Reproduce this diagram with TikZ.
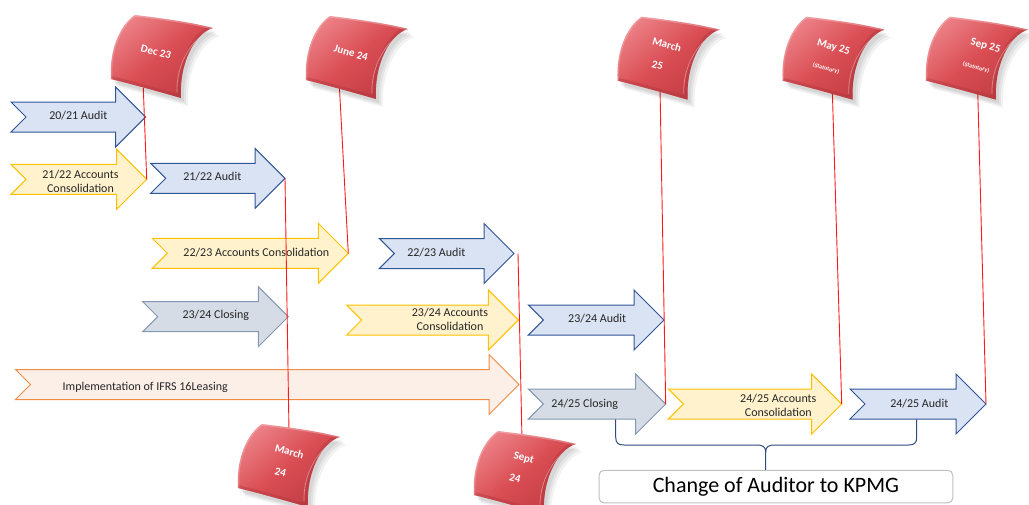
\documentclass[tikz,border=0pt]{standalone}
\usepackage{fontspec}
\setmainfont{Carlito}
\usetikzlibrary{calc}
\definecolor{bluefill}{HTML}{DAE3F3}
\definecolor{blueline}{HTML}{2F5597}
\definecolor{yelfill}{HTML}{FFF2CC}
\definecolor{yelline}{HTML}{FFC000}
\definecolor{grayfill}{HTML}{D6DCE5}
\definecolor{grayline}{HTML}{8497B0}
\definecolor{orfill}{HTML}{FCEFE7}
\definecolor{orline}{HTML}{F08C45}
\definecolor{flaglight}{HTML}{EB7E84}
\definecolor{flagmid}{HTML}{D94D53}
\definecolor{flagdark}{HTML}{C23D44}
\definecolor{bracecol}{HTML}{2F4B7C}
\definecolor{boxline}{HTML}{BFBFBF}
\definecolor{txt}{HTML}{262626}
\tikzset{
  arrowbox/.style={line width=1pt, line join=miter},
  bluearrow/.style={arrowbox, fill=bluefill, draw=blueline},
  yelarrow/.style={arrowbox, fill=yelfill, draw=yelline},
  grayarrow/.style={arrowbox, fill=grayfill, draw=grayline},
  orarrow/.style={arrowbox, fill=orfill, draw=orline},
  lbl/.style={font=\fontsize{12}{14}\selectfont, text=txt, align=center, inner sep=0pt},
  redline/.style={draw=red!90!white, line width=0.9pt},
  flagtext/.style={text=white, font=\bfseries\fontsize{11}{13}\selectfont, rotate=-15, inner sep=0pt},
  flagsmall/.style={text=white, font=\bfseries\fontsize{6}{7}\selectfont, rotate=-15, inner sep=0pt},
  brace/.style={draw=bracecol, line width=1pt},
  flagp/.style={insert path={(-25,-40) .. controls (0,-37) and (30,-33) .. (53,-27) .. controls (35,-22) and (19,8) .. (21,43) .. controls (0,37) and (-25,30) .. (-49,24) .. controls (-51,-5) and (-40,-30) .. (-25,-40) -- cycle}},
  flagshape/.pic={
    \fill[black, opacity=0.06, shift={(3,4)}, flagp];
    \fill[black, opacity=0.06, shift={(5,6)}, flagp];
    \fill[black, opacity=0.05, shift={(7,8)}, flagp];
    \shade[top color=flaglight, bottom color=flagdark, middle color=flagmid, shading angle=40, flagp];
    \begin{scope}
      \clip[flagp];
      \draw[flagdark!85!black, line width=6pt, opacity=0.35] (53,-27) .. controls (35,-22) and (19,8) .. (21,43) .. controls (0,37) and (-25,30) .. (-49,24);
      \draw[white, line width=0.8pt, opacity=0.35] (48,-22) .. controls (32,-17) and (16,10) .. (17,37);
      \draw[white, line width=3pt, opacity=0.25] (-25,-40) .. controls (0,-37) and (30,-33) .. (53,-27);
      \draw[white, line width=3pt, opacity=0.2] (-49,24) .. controls (-51,-5) and (-40,-30) .. (-25,-40);
    \end{scope}
  }
}
\newcommand\chev[5]{%
  \draw[#1] (#3,#5-15) -- (#4-30,#5-15) -- (#4-30,#5-30) -- (#4,#5) -- (#4-30,#5+30) -- (#4-30,#5+15) -- (#3,#5+15) -- (#3+15,#5) -- cycle;
  \coordinate (#2) at (#4,#5);}
\begin{document}
\begin{tikzpicture}[x=1pt,y=-1pt]
\useasboundingbox (0,0) rectangle (1029,504);
% arrows
\chev{bluearrow}{a2021}{11}{145.7}{117}
\chev{yelarrow}{a2122c}{11}{146.7}{179.3}
\chev{bluearrow}{a2122a}{150.7}{285}{178.3}
\chev{yelarrow}{a2223c}{152.3}{348.3}{253.3}
\chev{bluearrow}{a2223a}{379.3}{514}{253.5}
\chev{grayarrow}{a2324cl}{142.7}{288.3}{316.7}
\chev{yelarrow}{a2324c}{346.7}{518.3}{320}
\chev{bluearrow}{a2324a}{528.3}{664}{320}
\chev{orarrow}{aifrs}{15.5}{519}{384.5}
\chev{grayarrow}{a2425cl}{528.3}{665.7}{404}
\chev{yelarrow}{a2425c}{668.3}{841.7}{404}
\chev{bluearrow}{a2425a}{850}{986}{404}
% labels
\node[lbl] (t2021) at (78.3,115.7) {20/21 Audit};
\node[lbl] (t2122c) at (80.5,181) {21/22 Accounts\\Consolidation};
\node[lbl] (t2122a) at (212.3,176.7) {21/22 Audit};
\node[lbl] (t2223c) at (256.3,252.3) {22/23 Accounts Consolidation};
\node[lbl] (t2223a) at (436.3,252.3) {22/23 Audit};
\node[lbl] (t2324cl) at (215.8,315.7) {23/24 Closing};
\node[lbl] (t2324c) at (450,319.5) {23/24 Accounts\\Consolidation};
\node[lbl] (t2324a) at (597.2,318.3) {23/24 Audit};
\node[lbl] (t2425cl) at (584.7,404.3) {24/25 Closing};
\node[lbl] (t2425c) at (778.3,405.3) {24/25 Accounts\\Consolidation};
\node[lbl] (t2425a) at (919.3,403.3) {24/25 Audit};
\node[lbl] (tifrs) at (145.2,387.2) {Implementation of IFRS 16Leasing};
% pins
\coordinate (pdec) at (143.3,88);
\coordinate (pjun) at (339.3,85);
\coordinate (pmar25) at (660,87);
\coordinate (pmay25) at (832.3,90);
\coordinate (psep25) at (977.7,90);
\coordinate (pmar24) at (289,432);
\coordinate (psep24) at (522,440);
% red lines
\draw[redline] (pdec) -- (a2122c);
\draw[redline] (pjun) -- (a2223c);
\draw[redline] (a2122a) -- (pmar24);
\draw[redline] ([xshift=4pt]a2223a) -- (psep24);
\draw[redline] (pmar25) -- (a2425cl);
\draw[redline] (pmay25) -- (a2425c);
\draw[redline] (psep25) -- (a2425a);
% flags
\pic at (160,55) {flagshape};
\node[flagtext] (fdec) at (156,52) {Dec 23};
\pic at (355,56) {flagshape};
\node[flagtext] (fjun) at (351,53) {June 24};
\pic at (666.7,56.7) {flagshape};
\node[flagtext] (fmar25a) at (667,44.5) {March};
\node[flagtext] (fmar25b) at (657.5,65) {25};
\pic at (831.7,56.7) {flagshape};
\node[flagtext] (fmay25a) at (833.5,47.5) {May 25};
\node[flagsmall] (fmay25b) at (826,68.5) {(Statutory)};
\pic at (975,56.7) {flagshape};
\node[flagtext] (fsep25a) at (985.5,46) {Sep 25};
\node[flagsmall] (fsep25b) at (976,67.5) {(Statutory)};
\pic at (287,464) {flagshape};
\node[flagtext] (fmar24a) at (289.5,451.5) {March};
\node[flagtext] (fmar24b) at (280.5,472) {24};
\pic at (523,471) {flagshape};
\node[flagtext] (fsep24a) at (523.6,458.5) {Sept};
\node[flagtext] (fsep24b) at (515,478.5) {24};
% brace and box
\node[draw=boxline, line width=1pt, rounded corners=5pt, fill=white, minimum width=353.7pt, minimum height=32.7pt, inner sep=0pt, font=\fontsize{22}{26}\selectfont, text=black] (kpmg) at (775.9,486.6) {Change of Auditor to KPMG};
\coordinate (bl) at (615.7,419.3);
\coordinate (br) at (916.7,419.3);
\coordinate (cusp) at (765.7,452);
\draw[brace] (bl) -- (615.7,437) .. controls (615.7,443) and (618,445) .. (624,445) -- (756,445) .. controls (762,445) and (765.7,446) .. (cusp) -- (cusp |- kpmg.north);
\draw[brace] (br) -- (916.7,437) .. controls (916.7,443) and (914.4,445) .. (908.4,445) -- (775.4,445) .. controls (769.4,445) and (765.7,446) .. (cusp);
\end{tikzpicture}
\end{document}
